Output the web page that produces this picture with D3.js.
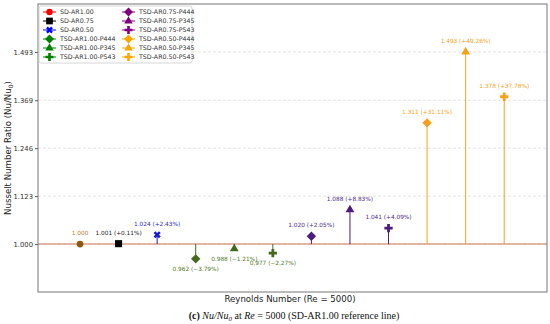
<!DOCTYPE html>
<html>
<head>
<meta charset="utf-8">
<script src="https://cdn.jsdelivr.net/npm/d3@7"></script>
<style>
  body { margin: 0; background: #fff; }
  text { font-family: "DejaVu Sans", sans-serif; }
</style>
</head>
<body>
<div id="chart"></div>
<script>
// data
var names = ["SD-AR1.00", "SD-AR0.75", "SD-AR0.50",
  "TSD-AR1.00-P444", "TSD-AR1.00-P345", "TSD-AR1.00-P543",
  "TSD-AR0.75-P444", "TSD-AR0.75-P345", "TSD-AR0.75-P543",
  "TSD-AR0.50-P444", "TSD-AR0.50-P345", "TSD-AR0.50-P543"];
var values = [1.000, 1.001, 1.024, 0.962, 0.988, 0.977, 1.020, 1.088, 1.041, 1.311, 1.493, 1.378];
var pctLabels = ["", "+0.11%", "+2.43%", "-3.79%", "-1.21%", "-2.27%", "+2.05%", "+8.83%", "+4.09%", "+31.11%", "+49.26%", "+37.78%"];
var yTicks = [1.000, 1.123, 1.246, 1.369, 1.493];
var shapes = ["circle", "square", "x", "diamond", "triangle", "plus", "diamond", "triangle", "plus", "diamond", "triangle", "plus"];
var legendColors = ["red", "black", "blue", "green", "green", "green", "purple", "purple", "purple", "orange", "orange", "orange"];
var pointColors = ["#8a5a14", "#000000", "#1a1ad6", "#45691c", "#45691c", "#45691c", "#4b1d7e", "#4b1d7e", "#4b1d7e", "#f6a01a", "#f6a01a", "#f6a01a"];
var labelColors = ["#b07c2c", "#222222", "#2a2ad8", "#4f7a2a", "#4f7a2a", "#4f7a2a", "#4b2a8a", "#4b2a8a", "#4b2a8a", "#f5a31e", "#f5a31e", "#f5a31e"];

var W = 550, H = 324;
var margin = { top: 4, right: 3, bottom: 32, left: 38 },
    width = W - margin.left - margin.right,
    height = H - margin.top - margin.bottom;

var svg = d3.select("#chart").append("svg")
    .attr("width", W).attr("height", H);

var g = svg.append("g")
    .attr("transform", "translate(" + margin.left + "," + margin.top + ")");

var x = d3.scaleLinear().domain([-1.09, 12.11]).range([0, width]);
var y = d3.scaleLinear().domain([0.877, 1.616]).range([height, 0]);

// grid
g.selectAll(".grid").data(yTicks).enter().append("line")
    .attr("x1", 0).attr("x2", width)
    .attr("y1", function (d) { return y(d); })
    .attr("y2", function (d) { return y(d); })
    .attr("stroke", "#ddd").attr("stroke-width", 0.8)
    .attr("stroke-dasharray", "3,2");

// reference line
g.append("line")
    .attr("x1", 0).attr("x2", width)
    .attr("y1", y(1)).attr("y2", y(1))
    .attr("stroke", "#c9735c").attr("stroke-width", 1.1);

// y axis
var yAxis = g.append("g")
    .call(d3.axisLeft(y).tickValues(yTicks).tickFormat(d3.format(".3f")).tickSize(3).tickPadding(2));
yAxis.select(".domain").remove();
yAxis.selectAll("text").style("font-size", "6.8px").attr("fill", "#333");
yAxis.selectAll("line").attr("stroke", "#555");

// frame
g.append("rect").attr("width", width).attr("height", height)
    .attr("fill", "none").attr("stroke", "#777").attr("stroke-width", 1);

function symbolPath(shape, size) {
    var t = { circle: d3.symbolCircle, square: d3.symbolSquare, x: d3.symbolCross,
              diamond: d3.symbolSquare, triangle: d3.symbolTriangle, plus: d3.symbolCross }[shape];
    return d3.symbol().type(t).size(size)();
}
function symbolRotate(shape) {
    return (shape === "x" || shape === "diamond") ? 45 : 0;
}
var sizes = { circle: 36, square: 50, x: 32, diamond: 44, triangle: 34, plus: 38 };

// stems
g.selectAll(".stem").data(values).enter().append("line")
    .attr("x1", function (d, i) { return x(i); })
    .attr("x2", function (d, i) { return x(i); })
    .attr("y1", y(1))
    .attr("y2", function (d) { return y(d); })
    .attr("stroke", function (d, i) { return pointColors[i]; })
    .attr("stroke-width", 1);

// markers
g.selectAll(".pt").data(values).enter().append("path")
    .attr("d", function (d, i) { return symbolPath(shapes[i], sizes[shapes[i]]); })
    .attr("transform", function (d, i) {
        return "translate(" + x(i) + "," + y(d) + ") rotate(" + symbolRotate(shapes[i]) + ")";
    })
    .attr("fill", function (d, i) { return pointColors[i]; });

// value labels
g.selectAll(".lbl").data(values).enter().append("text")
    .attr("x", function (d, i) { return x(i); })
    .attr("y", function (d) { return d >= 1 ? y(d) - 9 : y(d) + 12; })
    .attr("text-anchor", "middle")
    .style("font-size", "5.8px")
    .attr("fill", function (d, i) { return labelColors[i]; })
    .text(function (d, i) {
        var s = d3.format(".3f")(d);
        return pctLabels[i] ? s + " (" + pctLabels[i].replace("-", "\u2212") + ")" : s;
    });

// legend
var lg = g.append("g").attr("transform", "translate(0,2)");
lg.append("rect").attr("x", 1).attr("y", 0).attr("width", 153).attr("height", 57)
    .attr("rx", 2).attr("fill", "white").attr("fill-opacity", 0.85)
    .attr("stroke", "#ccc").attr("stroke-width", 0.8);
var items = lg.selectAll(".item").data(names).enter().append("g")
    .attr("transform", function (d, i) {
        var col = i < 6 ? 0 : 1, row = i % 6;
        return "translate(" + (col * 79) + "," + (6 + row * 9) + ")";
    });
items.append("line").attr("x1", 5).attr("x2", 18).attr("y1", 0).attr("y2", 0)
    .attr("stroke", function (d, i) { return legendColors[i]; }).attr("stroke-width", 1);
items.append("path")
    .attr("d", function (d, i) { return symbolPath(shapes[i], sizes[shapes[i]] * 0.9); })
    .attr("transform", function (d, i) { return "translate(11.5,0) rotate(" + symbolRotate(shapes[i]) + ")"; })
    .attr("fill", function (d, i) { return legendColors[i]; });
items.append("text").attr("x", 22).attr("y", 2.3)
    .style("font-size", "6.3px").attr("fill", "#333")
    .text(function (d) { return d; });

// axis labels
svg.append("text")
    .attr("transform", "translate(11," + (margin.top + height / 2) + ") rotate(-90)")
    .attr("text-anchor", "middle").style("font-size", "8.6px").attr("fill", "#222")
    .html("Nusselt Number Ratio (Nu/Nu<tspan font-size='6px' dy='2'>0</tspan><tspan dy='-2'>)</tspan>");

svg.append("text")
    .attr("x", 290).attr("y", 302)
    .attr("text-anchor", "middle").style("font-size", "8.6px").attr("fill", "#222")
    .text("Reynolds Number (Re = 5000)");

// caption
var cap = svg.append("text")
    .attr("x", 294).attr("y", 319)
    .attr("text-anchor", "middle")
    .style("font-family", "'Liberation Serif', 'DejaVu Serif', serif")
    .style("font-size", "10px").attr("fill", "#111");
cap.append("tspan").attr("font-weight", "bold").text("(c) ");
cap.append("tspan").attr("font-style", "italic").text("Nu/Nu");
cap.append("tspan").attr("font-style", "italic").attr("font-size", "7px").attr("dy", 1.5).text("0");
cap.append("tspan").attr("dy", -1.5).text(" at ");
cap.append("tspan").attr("font-style", "italic").text("Re");
cap.append("tspan").text(" = 5000 (SD-AR1.00 reference line)");
</script>
</body>
</html>
